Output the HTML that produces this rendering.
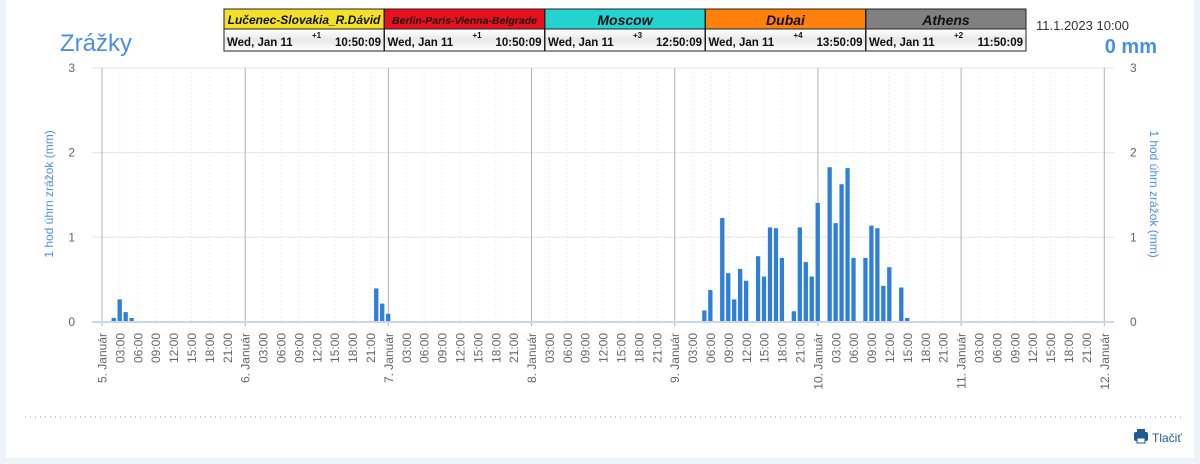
<!DOCTYPE html>
<html><head><meta charset="utf-8"><style>
body{margin:0;width:1200px;height:464px;background:#eef3fa;font-family:"Liberation Sans",sans-serif;overflow:hidden}
#w{position:absolute;left:6px;top:0;width:1188px;height:458px;background:#fff}
</style></head><body><div id="w"></div>
<svg id="s" width="1200" height="464" style="position:absolute;left:0;top:0" font-family="Liberation Sans, sans-serif"></svg>
<script>
const s=document.getElementById('s');let h='';
const X0=102,PX=5.966,Y0=322,PY=84.7;
for(let i=1;i<=3;i++){const y=Y0-i*PY;h+=`<line x1="${X0-10}" x2="1114" y1="${y}" y2="${y}" stroke="#e6e6e6"/>`;}
const days=['5. Január','6. Január','7. Január','8. Január','9. Január','10. Január','11. Január','12. Január'];
for(let k=0;k<=56;k++){const x=X0+k*3*PX;
 if(k%8==0){h+=`<line x1="${x}" x2="${x}" y1="68" y2="326" stroke="#b0b0b0"/>`;}
 else h+=`<line x1="${x}" x2="${x}" y1="68" y2="322" stroke="#e4e4e4" stroke-dasharray="1,3"/>`;
 const lab=k%8==0?days[k/8]:String((k%8)*3).padStart(2,'0')+':00';
 h+=`<text transform="translate(${x+4.5},333) rotate(-90)" text-anchor="end" font-size="12" fill="#666">${lab}</text>`;}
for(let i=0;i<=3;i++){const y=Y0-i*PY+4;h+=`<text x="75" y="${y}" text-anchor="end" font-size="12" fill="#666">${i}</text><text x="1130" y="${y}" font-size="12" fill="#666">${i}</text>`;}
h+=`<text transform="translate(53,194) rotate(-90)" text-anchor="middle" font-size="12" fill="#4a90e2">1 hod úhrn zrážok (mm)</text>`;
h+=`<text transform="translate(1150,194) rotate(90)" text-anchor="middle" font-size="12" fill="#4a90e2">1 hod úhrn zrážok (mm)</text>`;
const bars=[[2,.05],[3,.27],[4,.12],[5,.05],[46,.4],[47,.22],[48,.1],[101,.14],[102,.38],[104,1.23],[105,.58],[106,.27],[107,.63],[108,.49],[110,.78],[111,.54],[112,1.12],[113,1.11],[114,.76],[116,.13],[117,1.12],[118,.71],[119,.54],[120,1.41],[122,1.83],[123,1.17],[124,1.63],[125,1.82],[126,.76],[128,.76],[129,1.14],[130,1.11],[131,.43],[132,.65],[134,.41],[135,.05]];
for(const [k,v] of bars){const x=X0+k*PX-2.6,hh=v*PY;h+=`<rect x="${x}" y="${Y0-hh}" width="4.8" height="${hh}" fill="#2f7ed8" stroke="#fff" stroke-width=".5"/>`;}
h+=`<line x1="${X0-10}" x2="1114" y1="${Y0}" y2="${Y0}" stroke="#ccd6eb" stroke-width="2"/>`;
h+=`<line x1="25" x2="1185" y1="417" y2="417" stroke="#999" stroke-dasharray="1,4"/>`;
h+=`<text x="60" y="51" font-size="24" fill="#4a90e2">Zrážky</text>`;
h+=`<text x="1036" y="30" font-size="13" fill="#333">11.1.2023 10:00</text>`;
h+=`<text x="1157" y="53" font-size="20" font-weight="bold" fill="#4a90e2" text-anchor="end">0 mm</text>`;
h+=`<rect x="1134" y="432" width="14" height="9" rx="2" fill="#1e5a96"/><rect x="1137" y="429" width="8" height="4" fill="#1e5a96"/><rect x="1137" y="438" width="8" height="5" fill="#fff" stroke="#1e5a96"/>`;
h+=`<text x="1152" y="442" font-size="12" fill="#1e5a96">Tlačiť</text>`;
const bx=[['Lučenec-Slovakia_R.Dávid','#f3e02a','+1','10:50:09',12],['Berlin-Paris-Vienna-Belgrade','#e8101e','+1','10:50:09',10.5],['Moscow','#22d3cf','+3','12:50:09',14],['Dubai','#ff800a','+4','13:50:09',14],['Athens','#808080','+2','11:50:09',14]];
bx.forEach((b,i)=>{const x=224+i*160.5;
 h+=`<rect x="${x}" y="9" width="160" height="20" fill="${b[1]}" stroke="#222"/>`;
 h+=`<defs><linearGradient id="g${i}" x1="0" x2="0" y1="0" y2="1"><stop offset="0" stop-color="#fff"/><stop offset=".5" stop-color="#e8e8e8"/><stop offset="1" stop-color="#fff"/></linearGradient></defs>`;
 h+=`<rect x="${x}" y="29" width="160" height="22" fill="url(#g${i})" stroke="#222"/>`;
 h+=`<text x="${x+80}" y="${b[4]>12?25:24}" text-anchor="middle" font-size="${b[4]}" font-style="italic" font-weight="bold" fill="#111">${b[0]}</text>`;
 h+=`<text x="${x+3}" y="46" font-size="11.5" font-weight="bold" fill="#111">Wed, Jan 11</text>`;
 h+=`<text x="${x+88}" y="38" font-size="8" font-weight="bold" fill="#111">${b[2]}</text>`;
 h+=`<text x="${x+157}" y="46" text-anchor="end" font-size="11.5" font-weight="bold" fill="#111">${b[3]}</text>`;});
s.innerHTML=h;
</script></body></html>
